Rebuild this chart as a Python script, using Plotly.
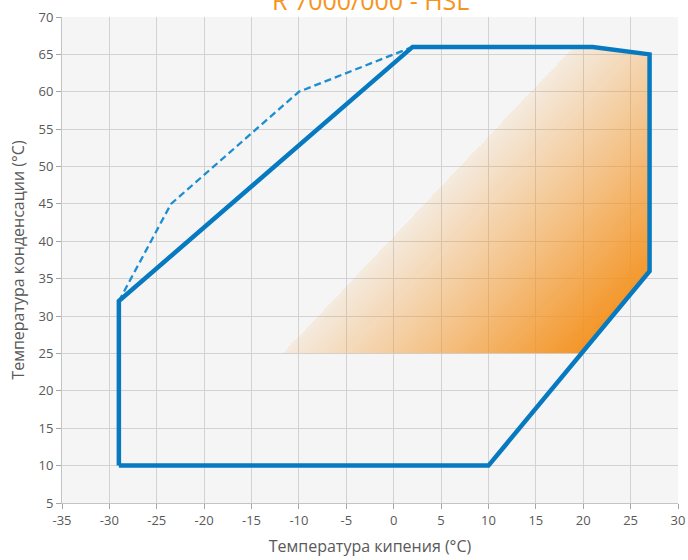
import numpy as np
import plotly.graph_objects as go

# Operating envelope (evaporating vs condensing temperature, °C)
env_x = [-29, -29, 2, 21, 27, 27, 10, -29]
env_y = [10, 32, 66, 66, 65, 36, 10, 10]

# Extended limit (dashed)
ext_x = [-29, -23.5, -10, 2]
ext_y = [32, 45, 60, 66]

# Recommended zone (gradient shaded)
zone_x = [-11.7, 19.8, 27, 27, 21, 19]
zone_y = [25, 25, 36, 65, 66, 66]

x_ticks = list(range(-35, 31, 5))
y_ticks = list(range(5, 71, 5))
x_tick_text = [str(v) for v in x_ticks]
y_tick_text = [str(v) for v in y_ticks]

title_text = "R 7000/000 - HSL"
x_title = "Температура кипения (°C)"
y_title = "Температура конденсации (°C)"

W, H = 688, 560
M = dict(l=62, r=10, t=17, b=57)
x_range = [-35, 30]
y_range = [5, 70]


def inside(px, py, vx, vy):
    res = np.zeros(px.shape, dtype=bool)
    n = len(vx)
    j = n - 1
    for i in range(n):
        xi, yi, xj, yj = vx[i], vy[i], vx[j], vy[j]
        if yi != yj:
            cross = (py > min(yi, yj)) & (py <= max(yi, yj))
            xint = xi + (py - yi) * (xj - xi) / (yj - yi)
            res ^= cross & (px < xint)
        j = i
    return res


# Fine grid for the diagonal gradient fill
step = 0.1
gx = np.arange(min(zone_x) - 0.5 + step / 2, max(zone_x) + 0.5, step)
gy = np.arange(min(zone_y) + step / 2, max(zone_y) + 0.5, step)
GX, GY = np.meshgrid(gx, gy)

# scale to screen pixels so the gradient runs at a constant on-screen angle
sx = (W - M["l"] - M["r"]) / (x_range[1] - x_range[0])
sy = (H - M["t"] - M["b"]) / (y_range[1] - y_range[0])
u = (GX - zone_x[0]) * sx
v = -(GY - zone_y[0]) * sy
t = u * 0.723 + v * 0.690
mask = inside(GX, GY, zone_x, zone_y)
t = np.where(mask, t, np.nan)
t = (t - np.nanmin(t)) / (np.nanmax(t) - np.nanmin(t))

orange = "243,146,32"
fig = go.Figure()
fig.add_trace(go.Heatmap(
    x=gx, y=gy, z=t,
    colorscale=[[0, f"rgba({orange},0.10)"], [0.5, f"rgba({orange},0.52)"], [1, f"rgba({orange},0.97)"]],
    zmin=0, zmax=1, showscale=False, hoverinfo="skip", zsmooth=False,
))
fig.add_trace(go.Scatter(
    x=ext_x, y=ext_y, mode="lines",
    line=dict(color="#1a8ed1", width=2.3, dash="7px,4px"),
    hoverinfo="skip", showlegend=False,
))
fig.add_trace(go.Scatter(
    x=env_x, y=env_y, mode="lines",
    line=dict(color="#0779c1", width=4.5),
    hoverinfo="skip", showlegend=False,
))

axis_common = dict(
    showgrid=True, gridcolor="#d2d2d2", gridwidth=1.3,
    zeroline=False, showline=True, linecolor="#c4c4c4", linewidth=1,
    ticks="outside", ticklen=5, tickcolor="#a6a6a6", automargin=False,
    tickfont=dict(family="Open Sans, sans-serif", size=13, color="#595959"),
)

fig.update_layout(
    width=W, height=H, margin=M,
    paper_bgcolor="white", plot_bgcolor="#f5f5f5",
    font=dict(family="Open Sans, sans-serif", color="#595959"),
    showlegend=False,
    xaxis=dict(range=x_range, tickvals=x_ticks, ticktext=x_tick_text, **axis_common,
               title=dict(text=x_title, font=dict(size=16, color="#595959"), standoff=13)),
    yaxis=dict(range=y_range, tickvals=y_ticks, ticktext=y_tick_text, **axis_common,
               title=dict(text=y_title, font=dict(size=16, color="#595959"), standoff=9)),
    annotations=[dict(
        text=title_text, xref="paper", yref="paper", x=0.5, y=1 + M["t"] / (H - M["t"] - M["b"]),
        xanchor="center", yanchor="middle", showarrow=False,
        font=dict(size=25, color="#f7941d", family="Open Sans, sans-serif"),
    )],
)

fig.write_html("out.html")
